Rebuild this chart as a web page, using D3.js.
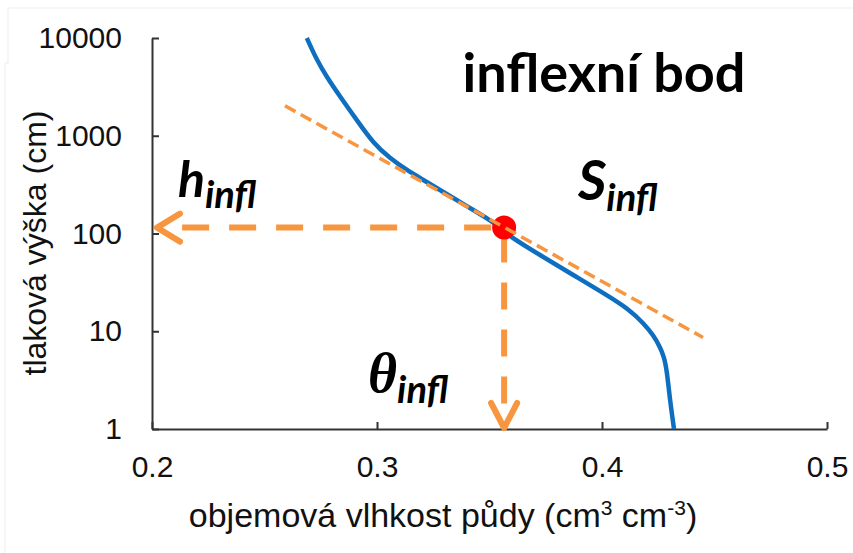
<!DOCTYPE html>
<html>
<head>
<meta charset="utf-8">
<script src="https://cdn.jsdelivr.net/npm/d3@7"></script>
<style>
  body { margin: 0; background: #fff; }
  svg { display: block; }
</style>
</head>
<body>
<div id="chart"></div>
<script>
'use strict'

// retention curve h(theta)
var thetaCurve = [0.2688, 0.2732, 0.2776, 0.2836, 0.2910, 0.2984, 0.3058, 0.3132, 0.3206, 0.3280, 0.3354, 0.3428, 0.3502, 0.3554, 0.3591, 0.3724, 0.3872, 0.4021, 0.4124, 0.4184, 0.4228, 0.4258, 0.4276, 0.4288, 0.4302, 0.4320]
var hCurve = [10000, 5960, 4020, 2510, 1450, 837, 588, 446, 353, 279, 220, 174, 137, 113, 92.7, 60.3, 37.6, 23.5, 16.5, 12.1, 9.16, 6.90, 5.45, 4.01, 1.98, 1]

// tangent at the inflection point
var thetaTangent = [0.2591, 0.4449]
var hTangent = [2023, 8.65]

// inflection point
var thetaInfl = 0.3565
var hInfl = 115

var xTicks = [0.2, 0.3, 0.4, 0.5]
var yTicks = [1, 10, 100, 1000, 10000]

var width = 853
var height = 553
var orange = '#F7963F'
var blue = '#0E6FC0'

var svg = d3.select('#chart').append('svg')
  .attr('width', width)
  .attr('height', height)

// faint frame left over in the source picture
svg.append('path')
  .attr('d', 'M853,8H8V63H5V553')
  .attr('fill', 'none')
  .attr('stroke', '#ededed')
  .attr('stroke-width', 1)

var x = d3.scaleLinear().domain([0.2, 0.5]).range([152, 827])
var y = d3.scaleLog().domain([1, 10000]).range([429, 38])

var xAxis = svg.append('g')
  .attr('transform', 'translate(0,' + y(1) + ')')
  .call(d3.axisBottom(x).tickValues(xTicks).tickFormat(d3.format('.1f'))
    .tickSizeInner(-7).tickSizeOuter(0).tickPadding(27))

var yAxis = svg.append('g')
  .attr('transform', 'translate(' + x(0.2) + ',0)')
  .call(d3.axisLeft(y).tickValues(yTicks).tickFormat(d3.format('d'))
    .tickSizeInner(-7).tickSizeOuter(0).tickPadding(30))

;[xAxis, yAxis].forEach(function (g) {
  g.select('.domain').attr('stroke', '#333').attr('stroke-width', 2)
  g.selectAll('.tick line').attr('stroke', '#333').attr('stroke-width', 2)
  g.selectAll('.tick text')
    .attr('fill', '#111')
    .style('font-family', '"Liberation Sans", Arial, sans-serif')
    .style('font-size', '30px')
})

// axis titles
var xTitle = svg.append('text')
  .attr('x', 443)
  .attr('y', 527)
  .attr('text-anchor', 'middle')
  .attr('fill', '#111')
  .style('font-family', '"Liberation Sans", Arial, sans-serif')
  .style('font-size', '34px')
xTitle.append('tspan').text('objemová vlhkost půdy (cm')
xTitle.append('tspan').attr('dy', -12).style('font-size', '21px').text('3')
xTitle.append('tspan').attr('dy', 12).text(' cm')
xTitle.append('tspan').attr('dy', -12).style('font-size', '21px').text('-3')
xTitle.append('tspan').attr('dy', 12).text(')')

svg.append('text')
  .attr('transform', 'translate(46,243) rotate(-90)')
  .attr('text-anchor', 'middle')
  .attr('fill', '#111')
  .style('font-family', '"Liberation Sans", Arial, sans-serif')
  .style('font-size', '32px')
  .text('tlaková výška (cm)')

// curve
var line = d3.line()
  .x(function (d) { return x(d[0]) })
  .y(function (d) { return y(d[1]) })

svg.append('path')
  .datum(d3.zip(thetaCurve, hCurve))
  .attr('d', line.curve(d3.curveBasis))
  .attr('fill', 'none')
  .attr('stroke', blue)
  .attr('stroke-width', 4.5)

// dashed arrows to the axes
var px = x(thetaInfl)
var py = y(hInfl)
var hx = x(0.2) + 5
var vy = y(1) - 1

svg.append('line')
  .attr('x1', px).attr('y1', py).attr('x2', hx).attr('y2', py)
  .attr('stroke', orange).attr('stroke-width', 6)
  .attr('stroke-dasharray', '27,20').attr('stroke-dashoffset', 34)

svg.append('line')
  .attr('x1', px).attr('y1', py).attr('x2', px).attr('y2', vy)
  .attr('stroke', orange).attr('stroke-width', 6)
  .attr('stroke-dasharray', '27,20').attr('stroke-dashoffset', 39)

svg.append('path')
  .attr('d', 'M' + (hx + 23) + ',' + (py - 14) + 'L' + hx + ',' + py + 'L' + (hx + 23) + ',' + (py + 14))
  .attr('fill', 'none').attr('stroke', orange).attr('stroke-width', 6)
  .attr('stroke-linecap', 'round').attr('stroke-linejoin', 'round')

svg.append('path')
  .attr('d', 'M' + (px - 13) + ',' + (vy - 25) + 'L' + px + ',' + vy + 'L' + (px + 13) + ',' + (vy - 25))
  .attr('fill', 'none').attr('stroke', orange).attr('stroke-width', 6)
  .attr('stroke-linecap', 'round').attr('stroke-linejoin', 'round')

// inflection point
svg.append('circle')
  .attr('cx', px).attr('cy', py).attr('r', 12)
  .attr('fill', '#FF0000')

// tangent
svg.append('path')
  .datum(d3.zip(thetaTangent, hTangent))
  .attr('d', line.curve(d3.curveLinear))
  .attr('fill', 'none')
  .attr('stroke', orange)
  .attr('stroke-width', 3.5)
  .attr('stroke-dasharray', '12,6')

// labels
var labelFont = 'Lato, "Open Sans", sans-serif'

svg.append('text')
  .attr('x', 604).attr('y', 92)
  .attr('text-anchor', 'middle')
  .attr('fill', '#000')
  .style('font-family', labelFont)
  .style('font-weight', 'bold')
  .style('font-size', '54px')
  .text('inflexní bod')

function subLabel (lx, ly, main, size, font) {
  var t = svg.append('text')
    .attr('x', lx).attr('y', ly)
    .attr('fill', '#000')
    .style('font-weight', 'bold')
    .style('font-style', 'italic')
  t.append('tspan')
    .style('font-family', font)
    .style('font-size', size + 'px')
    .text(main)
  t.append('tspan')
    .attr('dy', 11)
    .style('font-family', labelFont)
    .style('font-size', '38px')
    .text('infl')
}

subLabel(178, 197, 'h', 50, labelFont)
subLabel(578, 200, 'S', 55, labelFont)
subLabel(368, 392, 'θ', 56, '"Liberation Serif", serif')
</script>
</body>
</html>
